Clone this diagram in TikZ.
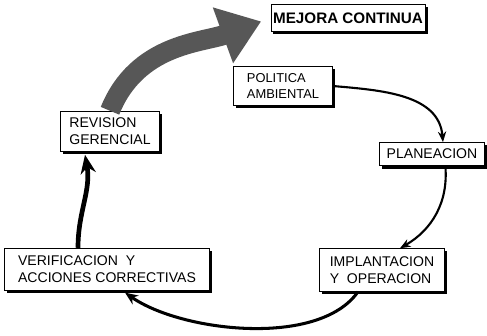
\documentclass[tikz,border=0pt]{standalone}
\usepackage{fontspec}
\setmainfont{Liberation Sans}
\usetikzlibrary{arrows.meta,shadows}

\begin{document}
\begin{tikzpicture}[
  box/.style={draw, thin, fill=white, align=left, inner sep=2pt,
    font=\fontsize{12}{14}\selectfont,
    drop shadow={opacity=1, fill=black, shadow xshift=2.3pt, shadow yshift=-2.5pt}},
  conn/.style={line width=1.8pt, -{Stealth[length=9pt, width=7pt]}},
  bigconn/.style={line width=0.6cm, black!66, -{Triangle[length=1.22cm, width=1.7cm]}}
]
\useasboundingbox (0,0) rectangle (14.61,-10.08);

% Boxes of the cycle
\node[box, minimum width=4.6cm, minimum height=0.81cm, font=\fontsize{13}{15}\selectfont\bfseries] (mejora) at (10.44,-0.54) {MEJORA CONTINUA};
\node[box, minimum width=2.97cm, minimum height=1.17cm, font=\fontsize{11}{13}\selectfont] (politica) at (8.49,-2.58) {POLITICA\\AMBIENTAL};
\node[box, minimum width=3.15cm, minimum height=0.7cm] (planeacion) at (12.96,-4.62) {PLANEACION};
\node[box, minimum width=3.75cm, minimum height=1.29cm] (implantacion) at (11.46,-8.1) {IMPLANTACION\\Y\ \ OPERACION};
\node[box, minimum width=6.15cm, minimum height=1.26cm] (verificacion) at (3.21,-8.07) {VERIFICACION\ \ Y\\ACCIONES CORRECTIVAS};
\node[box, minimum width=2.97cm, minimum height=1.2cm] (revision) at (3.3,-3.93) {REVISION\\GERENCIAL};

% Connectors
\draw[conn] (politica.east) to[out=-5, in=95] ([xshift=0.33cm]planeacion.north);
\draw[conn] ([xshift=0.4cm]planeacion.south) to[out=-85, in=30] ([xshift=0.54cm]implantacion.north);
\draw[conn, line width=2.6pt, -{Stealth[length=11pt, width=9pt]}] ([xshift=-0.72cm]implantacion.south) to[out=-125, in=-35, looseness=0.75] ([xshift=0.54cm, yshift=-2pt]verificacion.south);
\draw[conn, line width=4pt, -{Stealth[length=16pt, width=13pt]}] ([xshift=-0.87cm]verificacion.north) to[out=90, in=-80] ([xshift=-0.75cm, yshift=-3pt]revision.south);
\draw[bigconn, shorten >=0.3cm] (revision.north) to[out=68, in=200] (mejora.west);
\end{tikzpicture}
\end{document}
